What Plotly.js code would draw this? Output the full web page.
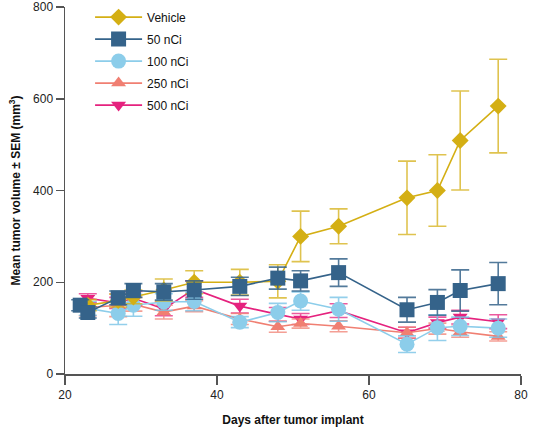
<!DOCTYPE html>
<html>
<head>
<meta charset="utf-8">
<script src="https://cdn.plot.ly/plotly-3.0.1.min.js"></script>
<style>
  html, body { margin: 0; padding: 0; background: #ffffff; }
  #chart { width: 545px; height: 428px; }
</style>
</head>
<body>
<div id="chart"></div>
<script>
// Mean tumor volume over time, by treatment group (mean ± SEM)
const vehicleDays = [23, 27, 29, 33, 37, 43, 48, 51, 56, 65, 69, 72, 77];
const vehicleMean = [150, 160, 168, 183, 200, 200, 202, 300, 322, 384, 400, 509, 584];
const vehicleSem  = [12, 14, 15, 24, 25, 28, 36, 55, 38, 80, 78, 108, 102];

const days50 = [22, 23, 27, 29, 33, 37, 43, 48, 51, 56, 65, 69, 72, 77];
const mean50 = [150, 134, 166, 182, 179, 183, 191, 209, 203, 221, 140, 156, 182, 197];
const sem50  = [12, 12, 15, 15, 18, 20, 20, 24, 22, 30, 27, 28, 45, 46];

const days100 = [23, 27, 29, 33, 37, 43, 48, 51, 56, 65, 69, 72, 77];
const mean100 = [143, 132, 150, 157, 158, 113, 134, 159, 141, 65, 101, 104, 100];
const sem100  = [15, 24, 24, 18, 20, 12, 20, 20, 26, 18, 28, 20, 20];

const days250 = [23, 27, 29, 33, 37, 43, 48, 51, 56, 65, 69, 72, 77];
const mean250 = [145, 150, 152, 135, 148, 120, 103, 110, 104, 90, 99, 92, 82];
const sem250  = [18, 25, 15, 15, 12, 12, 12, 10, 12, 12, 12, 12, 10];

const days500 = [23, 27, 29, 33, 37, 43, 48, 51, 56, 65, 69, 72, 77];
const mean500 = [165, 155, 165, 142, 185, 148, 130, 120, 138, 90, 112, 124, 114];
const sem500  = [10, 12, 15, 15, 18, 15, 15, 12, 15, 12, 12, 15, 15];

const groupNames = ['Vehicle', '50 nCi', '100 nCi', '250 nCi', '500 nCi'];

function series(name, x, y, sem, color, barColor, symbol, size, rank) {
  return {
    type: 'scatter',
    mode: 'lines+markers',
    name: name,
    legendgroup: name,
    legendrank: rank,
    x: x,
    y: y,
    error_y: { type: 'data', array: sem, visible: true, color: barColor, thickness: 1.6, width: 9 },
    line: { color: color, width: 1.6 },
    marker: { color: color, symbol: symbol, size: size, line: { width: 0 } },
    cliponaxis: false
  };
}

// drawn bottom to top: 500, 250, 100, Vehicle, 50
const traces = [
  series(groupNames[4], days500, mean500, sem500, '#E5227E', 'rgba(229,34,126,0.75)', 'triangle-down', 13, 5),
  series(groupNames[3], days250, mean250, sem250, '#F07F72', 'rgba(240,127,114,0.75)', 'triangle-up', 13, 4),
  series(groupNames[2], days100, mean100, sem100, '#8CCDEA', 'rgba(120,195,230,0.8)', 'circle', 15, 3),
  series(groupNames[0], vehicleDays, vehicleMean, vehicleSem, '#D4AF14', 'rgba(212,175,20,0.75)', 'diamond', 13, 1),
  series(groupNames[1], days50, mean50, sem50, '#35638A', 'rgba(53,99,138,0.85)', 'square', 15, 2)
];

const axisFont = { family: 'Liberation Sans, Arial, sans-serif', size: 12, color: '#222222' };

const layout = {
  width: 545,
  height: 428,
  margin: { l: 65, r: 24, t: 7, b: 54, autoexpand: false },
  paper_bgcolor: '#ffffff',
  plot_bgcolor: '#ffffff',
  font: axisFont,
  showlegend: true,
  legend: {
    x: 0.055, y: 1.012, xanchor: 'left', yanchor: 'top',
    bgcolor: 'rgba(0,0,0,0)',
    font: { family: 'Liberation Sans, Arial, sans-serif', size: 12, color: '#111111' },
    itemwidth: 47,
    tracegroupgap: 3,
    traceorder: 'grouped'
  },
  xaxis: {
    range: [20, 80],
    tickvals: [20, 40, 60, 80],
    ticks: 'outside', ticklen: 9, tickwidth: 1.5, tickcolor: '#555555',
    showline: true, linecolor: '#555555', linewidth: 1.5,
    showgrid: false, zeroline: false,
    tickfont: axisFont,
    title: { text: '<b>Days after tumor implant</b>', font: { family: 'Liberation Sans, Arial, sans-serif', size: 12, color: '#111111' }, standoff: 14 }
  },
  yaxis: {
    range: [0, 800],
    tickvals: [0, 200, 400, 600, 800],
    ticks: 'outside', ticklen: 8, tickwidth: 1.5, tickcolor: '#555555',
    showline: true, linecolor: '#555555', linewidth: 1.5,
    showgrid: false, zeroline: false,
    tickfont: axisFont,
    title: { text: '<b>Mean tumor volume ± SEM (mm<sup>3</sup>)</b>', font: { family: 'Liberation Sans, Arial, sans-serif', size: 12, color: '#111111' }, standoff: 10 }
  }
};

Plotly.newPlot('chart', traces, layout, { displayModeBar: false, staticPlot: true });
</script>
</body>
</html>
